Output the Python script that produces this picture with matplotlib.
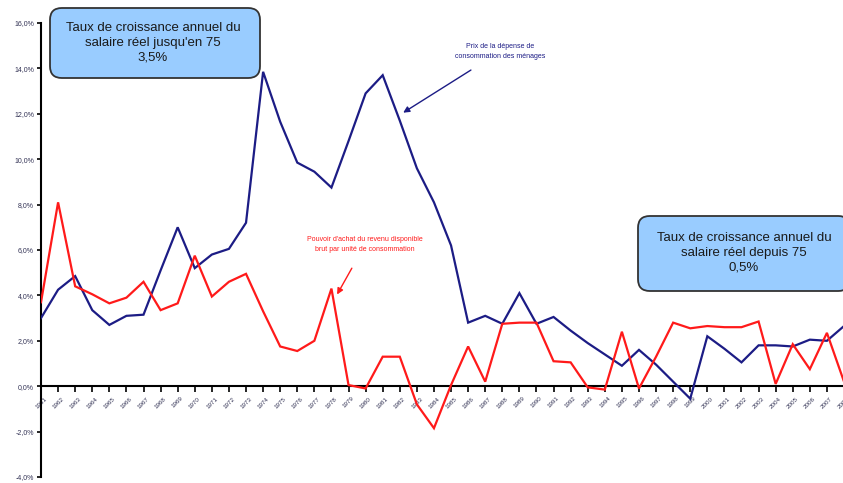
import matplotlib
matplotlib.use("Agg")
import matplotlib.pyplot as plt
from matplotlib.patches import FancyBboxPatch
from matplotlib.ticker import FuncFormatter

plt.rcParams['font.family'] = ['Liberation Sans', 'DejaVu Sans']

years = list(range(1961, 2009))

# Prix de la dépense de consommation des ménages (%)
prix = [3.0, 4.25, 4.85, 3.35, 2.7, 3.1, 3.15, 5.1, 7.0, 5.2,
        5.8, 6.05, 7.2, 13.85, 11.65, 9.85, 9.45, 8.75, 10.8, 12.9,
        13.7, 11.7, 9.6, 8.1, 6.2, 2.8, 3.1, 2.75, 4.1, 2.75,
        3.05, 2.45, 1.9, 1.4, 0.9, 1.6, 0.95, 0.2, -0.55, 2.2,
        1.65, 1.05, 1.8, 1.8, 1.75, 2.05, 2.0, 2.65]

# Pouvoir d'achat du revenu disponible brut par unité de consommation (%)
pouvoir = [3.7, 8.1, 4.4, 4.05, 3.65, 3.9, 4.6, 3.35, 3.65, 5.75,
           3.95, 4.6, 4.95, 3.3, 1.75, 1.55, 2.0, 4.3, 0.05, -0.1,
           1.3, 1.3, -0.8, -1.85, 0.05, 1.75, 0.2, 2.75, 2.8, 2.8,
           1.1, 1.05, -0.05, -0.15, 2.4, -0.1, 1.3, 2.8, 2.55, 2.65,
           2.6, 2.6, 2.85, 0.1, 1.85, 0.75, 2.35, 0.2]

y_ticks = [-4, -2, 0, 2, 4, 6, 8, 10, 12, 14, 16]

W, H = 843, 483
fig = plt.figure(figsize=(W / 100, H / 100), dpi=100)
ax = fig.add_axes([41 / W, 1 - 477 / H, 803 / W, (477 - 23) / H])

x = list(range(len(years)))
ax.plot(x, prix, color='#1c1c85', lw=1.6, solid_joinstyle='miter', zorder=3)
ax.plot(x, pouvoir, color='#ff1a1a', lw=1.6, solid_joinstyle='miter', zorder=3)

ax.set_xlim(0, len(years) - 1)
ax.set_ylim(-4, 16)
ax.set_yticks(y_ticks)
ax.yaxis.set_major_formatter(FuncFormatter(lambda v, p: f"{v:.1f}%".replace('.', ',')))
ax.set_xticks(x)
ax.set_xticklabels([str(y) for y in years])

ax.tick_params(axis='y', labelsize=5, labelcolor='#333355', color='black',
               length=3, width=1.2, pad=2)
ax.tick_params(axis='x', labelsize=4.5, labelcolor='#333355', color='black',
               length=4, width=1.2, direction='out', pad=3, labelrotation=45)
for lbl in ax.get_xticklabels():
    lbl.set_ha('right')
    lbl.set_va('top')
    lbl.set_rotation_mode('anchor')

ax.spines['bottom'].set_position(('data', 0))
ax.spines['bottom'].set_linewidth(1.5)
ax.spines['left'].set_linewidth(1.5)
ax.spines['top'].set_visible(False)
ax.spines['right'].set_visible(False)
ax.patch.set_visible(False)

box_font = ['Liberation Sans Narrow', 'Liberation Sans', 'DejaVu Sans']


def add_box(px0, py0, px1, py1, text, cx, cy):
    box = FancyBboxPatch((px0 / W, 1 - py1 / H), (px1 - px0) / W, (py1 - py0) / H,
                         boxstyle="round,pad=0,rounding_size=0.014",
                         transform=fig.transFigure, facecolor='#99ccff',
                         edgecolor='#333333', linewidth=1.3, zorder=5,
                         mutation_aspect=W / H)
    fig.patches.append(box)
    fig.text(cx / W, 1 - cy / H, text, ha='center', va='center', fontsize=9.5,
             family=box_font, color='#1a1a1a', linespacing=1.3, zorder=6)


add_box(50, 8, 260, 78,
        "Taux de croissance annuel du\nsalaire réel jusqu'en 75\n3,5%", 153, 43)
add_box(638, 216, 850, 291,
        "Taux de croissance annuel du\nsalaire réel depuis 75\n0,5%", 744, 253)

ax.annotate("Prix de la dépense de\nconsommation des ménages",
            xy=(21.2, 12.05), xytext=(26.9, 14.75), ha='center', va='center',
            fontsize=5, color='#1c1c85', linespacing=1.6,
            arrowprops=dict(arrowstyle='-|>', color='#1c1c85', lw=1.0,
                            shrinkA=10, shrinkB=0, mutation_scale=9))
ax.annotate("Pouvoir d'achat du revenu disponible\nbrut par unité de consommation",
            xy=(17.33, 4.04), xytext=(18.97, 6.24), ha='center', va='center',
            fontsize=5, color='#ff1a1a', linespacing=1.7,
            arrowprops=dict(arrowstyle='-|>', color='#ff1a1a', lw=1.0,
                            shrinkA=10, shrinkB=0, mutation_scale=9))

fig.savefig("out.png", dpi=100)
